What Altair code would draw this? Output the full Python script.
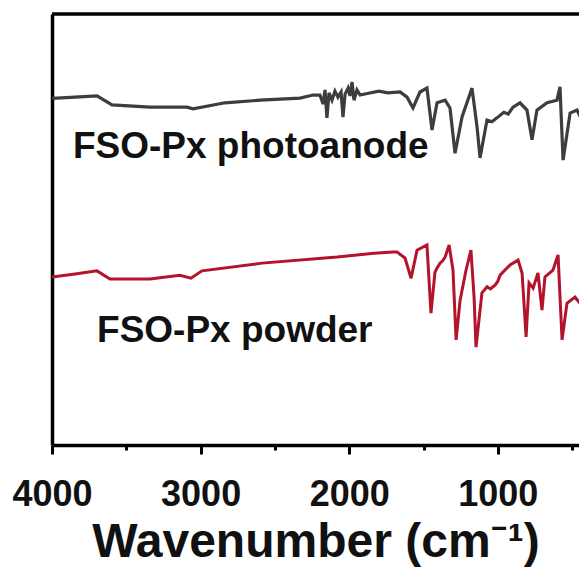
import altair as alt
import pandas as pd

# FTIR spectra (wavenumber in cm-1, transmittance in a.u.)
anode_wn = [4000, 3845, 3697, 3596, 3341, 3092, 3051, 2836, 2600, 2331, 2244,
            2197, 2176, 2163, 2150, 2136, 2116, 2096, 2076, 2055, 2042, 2028,
            2008, 1995, 1981, 1968, 1948, 1927, 1870, 1800, 1740, 1658, 1611,
            1571, 1524, 1477, 1443, 1409, 1355, 1322, 1288, 1241, 1174, 1140,
            1120, 1073, 1040, 1006, 960, 930, 898, 851, 804, 770, 737, 669,
            602, 582, 561, 514, 467, 434, 420, 410, 400]
anode_t = [80.4, 80.7, 81.0, 78.9, 78.4, 78.4, 78.0, 79.4, 80.0, 80.5, 81.2,
           81.2, 79.1, 82.4, 75.9, 81.7, 80.0, 82.1, 80.7, 81.9, 76.1, 81.4,
           82.8, 81.0, 84.2, 80.0, 82.4, 81.2, 81.6, 82.1, 81.7, 81.9, 80.7,
           78.2, 81.9, 82.8, 73.1, 79.4, 80.0, 78.2, 67.7, 76.1, 82.8, 73.8,
           66.6, 75.4, 75.0, 75.9, 77.2, 76.8, 78.4, 79.4, 77.7, 70.8, 77.7,
           79.4, 80.0, 83.1, 66.1, 77.0, 77.7, 75.4, 75.0, 82.8, 70.1]

powder_wn = [4000, 3845, 3697, 3610, 3341, 3139, 3065, 2991, 2587, 2082, 1833,
             1705, 1679, 1625, 1584, 1544, 1477, 1450, 1423, 1410, 1389, 1370,
             1355, 1328, 1302, 1281, 1254, 1214, 1181, 1160, 1147, 1107, 1090,
             1073, 1050, 1019, 1000, 985, 918, 864, 837, 810, 790, 763, 730,
             703, 683, 629, 595, 568, 535, 481, 447, 400]
powder_t = [39.0, 39.7, 40.4, 38.5, 38.5, 39.4, 38.7, 40.4, 42.2, 43.6, 44.5,
            44.8, 44.8, 43.4, 38.7, 45.2, 46.4, 30.6, 40.1, 41.0, 42.2, 42.8,
            43.6, 46.4, 40.6, 24.4, 33.6, 40.6, 45.2, 34.3, 22.7, 35.3, 36.0,
            36.7, 36.2, 37.1, 38.0, 39.4, 41.8, 42.9, 39.9, 25.1, 37.6, 36.4,
            39.9, 31.3, 39.0, 40.6, 44.1, 24.4, 32.9, 34.3, 32.9, 30.6]

series_names = ["FSO-Px photoanode", "FSO-Px powder"]
series_colors = ["#3d3d3d", "#b3132b"]

label_texts = ["FSO-Px photoanode", "FSO-Px powder"]
label_wn = [3859, 3697]
label_t = [66.6, 23.9]

tick_values = [4000, 3500, 3000, 2500, 2000, 1500, 1000, 500]
x_domain = [454, 4000]   # the reference is cropped a little past 500 cm-1
y_domain = [0, 100]

anode = pd.DataFrame({"wn": anode_wn, "t": anode_t})
powder = pd.DataFrame({"wn": powder_wn, "t": powder_t})
lab = pd.DataFrame({"wn": label_wn, "t": label_t, "text": label_texts})
top = pd.DataFrame({"x1": [x_domain[1]], "x2": [x_domain[0]], "y": [y_domain[1]]})

xscale = alt.Scale(domain=x_domain, reverse=True, nice=False, zero=False)
yscale = alt.Scale(domain=y_domain, nice=False, zero=False)

xaxis = alt.Axis(
    values=tick_values,
    format="d",
    labelExpr="datum.value % 1000 === 0 ? datum.label : ''",
    labelFlush=False,
    labelOverlap=False,
    labelFont="Liberation Sans",
    labelFontWeight="bold",
    labelFontSize=36,
    labelColor="#111111",
    labelPadding=23,
    tickSize={"condition": {"test": "datum.value % 1000 === 0", "value": 9}, "value": 5},
    tickWidth=3,
    tickColor="black",
    domainWidth=3.5,
    domainColor="black",
    grid=False,
    title="Wavenumber (cm⁻¹)",
    titleFont="Liberation Sans, Noto Sans",
    titleFontWeight="bold",
    titleFontSize=48,
    titleColor="#111111",
    titlePadding=6,
)
yaxis = alt.Axis(labels=False, ticks=False, title=None, grid=False,
                 domainWidth=3.5, domainColor="black")

anode_line = alt.Chart(anode).mark_line(strokeWidth=3.2, color=series_colors[0], clip=True).encode(
    x=alt.X("wn:Q", scale=xscale, axis=xaxis),
    y=alt.Y("t:Q", scale=yscale, axis=yaxis),
)
powder_line = alt.Chart(powder).mark_line(strokeWidth=3.0, color=series_colors[1], clip=True).encode(
    x=alt.X("wn:Q", scale=xscale),
    y=alt.Y("t:Q", scale=yscale),
)
top_rule = alt.Chart(top).mark_rule(strokeWidth=3.5, color="black").encode(
    x=alt.X("x1:Q", scale=xscale),
    x2="x2:Q",
    y=alt.Y("y:Q", scale=yscale),
)
texts = alt.Chart(lab).mark_text(
    align="left", baseline="alphabetic", font="Liberation Sans",
    fontWeight="bold", fontSize=37, color="#111111"
).encode(
    x=alt.X("wn:Q", scale=xscale),
    y=alt.Y("t:Q", scale=yscale),
    text="text:N",
)

chart = alt.layer(anode_line, powder_line, top_rule, texts).properties(
    width=527, height=431,
    autosize=alt.AutoSizeParams(type="none"),
    padding={"left": 44, "top": 6, "right": 0, "bottom": 122},
    background="white",
).configure_view(stroke=None)

chart.save("out.html", embed_options={"renderer": "svg", "actions": False})
